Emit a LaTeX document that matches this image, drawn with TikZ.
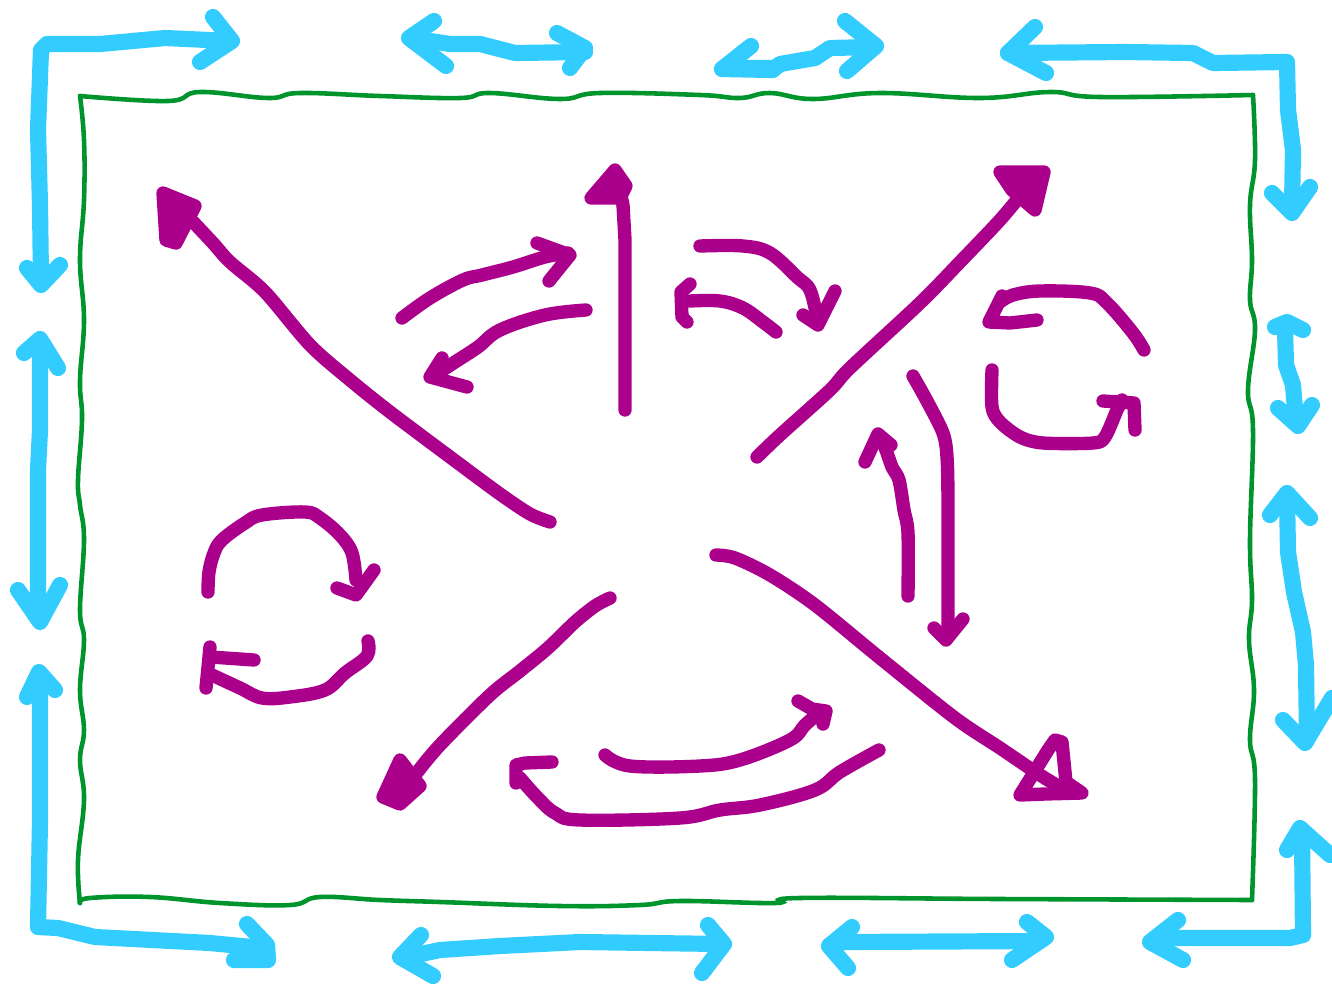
\documentclass[tikz,border=0pt]{standalone}
\definecolor{skyline}{RGB}{51,204,255}
\definecolor{plumink}{RGB}{170,0,140}
\definecolor{rimgreen}{RGB}{0,148,45}
% open arrow head: arm -- tip -- arm
\newcommand{\barb}[4][skypen]{\draw[#1] #2 -- #3 -- #4;}

\begin{document}
\begin{tikzpicture}[
  x=0.1mm, y=-0.1mm,
  skypen/.style={draw=skyline, line width=4.6pt, line cap=round, line join=round},
  plumpen/.style={draw=plumink, line width=3.8pt, line cap=round, line join=round},
  plumhead/.style={plumpen, fill=plumink},
  rim/.style={draw=rimgreen, line width=1.3pt, line cap=round},
]
\useasboundingbox (0,0) rectangle (1332,983);

% ===== Wavy frame =====
\draw[rim] plot[smooth, tension=0.7] coordinates {(80,96) (168,101) (200,92) (268,98) (300,93) (380,96) (460,98) (490,93) (560,99) (600,93) (700,95) (740,98) (770,93) (813,99) (880,93) (980,98) (1050,92) (1100,97) (1253,95)};
\draw[rim] plot[smooth, tension=0.7] coordinates {(1253,95) (1255,160) (1250,205) (1252,260) (1250,300) (1255,330) (1248,390) (1253,430) (1250,540) (1252,600) (1249,640) (1254,690) (1250,740) (1255,780) (1252,900)};
\draw[rim] plot[smooth, tension=0.7] coordinates {(1252,900) (1000,899) (800,898) (775,903) (680,901) (640,905) (560,906) (440,902) (380,900) (320,897) (290,905) (220,903) (150,897) (90,898) (80,903)};
\draw[rim] plot[smooth, tension=0.7] coordinates {(80,903) (78,860) (84,800) (80,760) (84,730) (80,690) (84,640) (80,610) (84,540) (80,505) (78,480) (82,420) (80,380) (84,320) (80,260) (84,200) (84,140) (80,96)};

% ===== Outer arrows (cyan) =====
% top left corner
\draw[skypen] (41,280) -- (40,205) -- (38,130) -- (41,50) -- (47,44) -- (100,44) -- (165,38) -- (230,41);
\barb{(213,17)}{(232,41)}{(200,62)}
\barb{(27,268)}{(41,285)}{(60,265)}
% top
\draw[skypen] (410,38) -- (450,44) -- (480,44) -- (515,53) -- (585,52);
\barb{(434,21)}{(409,38)}{(446,66)}
\barb{(557,33)}{(585,48)}{(570,68)}
\draw[skypen] (724,68) -- (775,68) -- (780,64) -- (815,58) -- (830,48) -- (874,47);
\barb{(751,46)}{(722,69)}{(773,70)}
\barb{(845,21)}{(876,46)}{(847,71)}
% top right corner
\draw[skypen] (1008,53) -- (1125,52) -- (1193,53) -- (1213,63) -- (1287,62) -- (1288,110) -- (1293,150) -- (1292,205);
\barb{(1035,27)}{(1008,53)}{(1046,73)}
\barb{(1272,193)}{(1292,213)}{(1310,187)}
% right
\draw[skypen] (1285,328) -- (1286,365) -- (1293,385) -- (1296,422);
\barb{(1275,327)}{(1287,322)}{(1303,330)}
\barb{(1278,408)}{(1298,426)}{(1312,405)}
\draw[skypen] (1287,496) -- (1288,552) -- (1294,592) -- (1303,632) -- (1306,665) -- (1307,740);
\barb{(1270,515)}{(1287,493)}{(1310,518)}
\barb{(1283,720)}{(1305,743)}{(1332,698)}
% bottom right corner
\draw[skypen] (1302,832) -- (1303,935) -- (1290,938) -- (1160,938);
\barb{(1287,850)}{(1300,828)}{(1330,855)}
\barb{(1178,920)}{(1150,942)}{(1183,960)}
% bottom
\draw[skypen] (402,958) -- (440,950) -- (500,946) -- (580,942) -- (722,944);
\barb{(421,935)}{(400,957)}{(433,976)}
\barb{(708,925)}{(724,944)}{(702,973)}
\draw[skypen] (830,945) -- (845,942) -- (1040,941);
\barb{(852,927)}{(829,946)}{(848,968)}
\barb{(1027,922)}{(1046,937)}{(1012,960)}
% bottom left corner
\draw[skypen] (40,676) -- (40,820) -- (38,927) -- (58,928) -- (95,937) -- (210,943) -- (262,948);
\barb{(27,697)}{(39,672)}{(55,690)}
\draw[skypen] (247,924) -- (267,945) -- (268,960) -- (234,960);
% left
\draw[skypen] (40,342) -- (40,430) -- (38,470) -- (38,595) -- (40,620);
\barb{(24,353)}{(40,339)}{(58,368)}
\barb{(18,590)}{(40,622)}{(60,585)}

% ===== Inner arrows (magenta) =====
% long, to the upper left
\draw[plumpen] plot[smooth, tension=0.5] coordinates {(550,522) (530,514) (500,494) (450,457) (390,412) (350,380) (310,345) (265,292) (230,262) (212,242) (180,208)};
\filldraw[plumhead] (163,193) -- (195,206) -- (176,243) -- (166,240) -- cycle;
% straight up
\draw[plumpen] (625,410) -- (625,240) -- (623,205) -- (618,182);
\filldraw[plumhead] (615,170) -- (591,198) -- (620,198) -- (626,186) -- cycle;
% pair of short arcs
\draw[plumpen] plot[smooth, tension=0.6] coordinates {(402,318) (430,298) (463,280) (482,275) (513,267) (545,257) (568,253)};
\barb[plumpen]{(537,243)}{(570,255)}{(549,281)}
\draw[plumpen] plot[smooth, tension=0.6] coordinates {(586,310) (545,315) (500,330) (478,347) (455,362) (432,377)};
\barb[plumpen]{(442,358)}{(430,377)}{(467,387)}
% pair of hooks
\draw[plumpen] plot[smooth, tension=0.6] coordinates {(700,246) (743,246) (770,253) (797,277) (810,290) (817,318)};
\barb[plumpen]{(803,315)}{(818,325)}{(835,291)}
\draw[plumpen] plot[smooth, tension=0.6] coordinates {(776,332) (763,322) (743,308) (720,301) (690,301)};
\draw[plumpen] (690,284) -- (681,292) -- (682,317) -- (687,322);
% long, to the upper right
\draw[plumpen] plot[smooth, tension=0.5] coordinates {(757,457) (780,435) (830,390) (850,368) (920,303) (960,262) (1000,220) (1025,190)};
\filldraw[plumhead] (1000,172) -- (1044,172) -- (1035,210) -- (1012,190) -- cycle;
% right circle
\draw[plumpen] plot[smooth, tension=0.6] coordinates {(1144,350) (1133,333) (1107,303) (1090,293) (1040,291) (1013,295) (1000,302)};
\draw[plumpen] (1002,296) -- (989,322) -- (1010,323) -- (1037,320);
\draw[plumpen] plot[smooth, tension=0.5] coordinates {(992,370) (992,407) (1000,422) (1020,437) (1043,443) (1093,443) (1105,437) (1117,410) (1122,400)};
\draw[plumpen] (1103,401) -- (1134,403) -- (1135,430);
% down and up
\draw[plumpen] plot[smooth, tension=0.5] coordinates {(913,376) (927,401) (943,433) (947,457) (948,503) (948,628)};
\barb[plumpen]{(934,628)}{(946,640)}{(963,619)}
\draw[plumpen] plot[smooth, tension=0.5] coordinates {(908,596) (908,533) (904,510) (899,480) (892,467) (886,450) (880,437)};
\barb[plumpen]{(865,462)}{(878,434)}{(891,445)}
% long, to the lower right
\draw[plumpen] plot[smooth, tension=0.5] coordinates {(716,555) (735,558) (770,575) (815,605) (880,658) (955,718) (1000,748) (1040,775) (1065,790)};
\draw[plumpen] (1020,795) -- (1048,750) -- (1055,740) -- (1062,742) -- (1066,782) -- (1082,793) -- (1045,794) -- cycle;
% long, to the lower left
\draw[plumpen] plot[smooth, tension=0.5] coordinates {(610,598) (595,606) (575,622) (548,648) (520,671) (490,695) (440,745) (415,775) (400,795)};
\filldraw[plumhead] (400,760) -- (383,797) -- (400,804) -- (420,786) -- cycle;
% bottom arcs
\draw[plumpen] plot[smooth, tension=0.6] coordinates {(605,755) (630,766) (700,766) (740,760) (790,740) (805,725) (820,712)};
\draw[plumpen] (798,701) -- (812,709) -- (826,711) -- (823,724);
\draw[plumpen] plot[smooth, tension=0.6] coordinates {(879,750) (840,772) (815,790) (760,805) (720,810) (680,818) (580,820) (555,813) (537,797) (520,778)};
\draw[plumpen] (516,783) -- (516,765) -- (525,763) -- (552,762);
% left circle
\draw[plumpen] plot[smooth, tension=0.6] coordinates {(208,592) (209,572) (214,553) (222,540) (245,523) (262,515) (305,512) (320,518) (340,535) (352,553) (356,580)};
\draw[plumpen] (337,588) -- (356,595) -- (374,570);
\draw[plumpen] plot[smooth, tension=0.6] coordinates {(368,641) (367,656) (345,673) (325,690) (290,697) (262,698) (240,688) (212,675)};
\draw[plumpen] (206,688) -- (210,647);
\draw[plumpen] (211,657) -- (254,660);
\end{tikzpicture}
\end{document}
